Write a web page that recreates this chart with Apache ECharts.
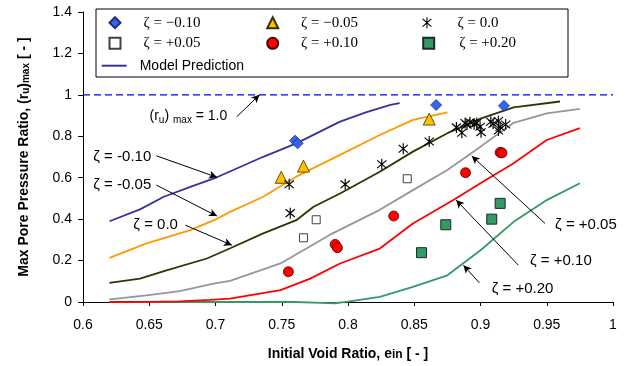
<!DOCTYPE html>
<html><head><meta charset="utf-8">
<script src="https://cdn.jsdelivr.net/npm/echarts@6/dist/echarts.min.js"></script>
<style>html,body{margin:0;padding:0;background:#fff}#c{width:628px;height:366px}</style>
</head><body><div id="c"></div>
<script>
// ---------- data ----------
const xAxisRange = [0.6, 1.0];
const yAxisRange = [0, 1.4];

// model prediction curves [x, y]
const modelM010 = [[0.62,0.390],[0.643,0.447],[0.661,0.508],[0.681,0.556],[0.701,0.602],[0.719,0.653],[0.736,0.701],[0.761,0.766],[0.794,0.871],[0.814,0.917],[0.832,0.952],[0.839,0.960]];
const modelM005 = [[0.62,0.213],[0.648,0.283],[0.681,0.347],[0.699,0.395],[0.711,0.435],[0.736,0.508],[0.761,0.605],[0.794,0.710],[0.824,0.806],[0.849,0.879],[0.875,0.916]];
const modelZ000 = [[0.62,0.092],[0.643,0.113],[0.663,0.153],[0.6935,0.210],[0.712,0.262],[0.736,0.331],[0.761,0.395],[0.774,0.460],[0.794,0.524],[0.824,0.629],[0.849,0.726],[0.875,0.815],[0.900,0.885],[0.925,0.940],[0.960,0.968]];
const modelP005 = [[0.62,0.013],[0.648,0.032],[0.673,0.053],[0.6985,0.089],[0.711,0.102],[0.749,0.186],[0.7865,0.325],[0.824,0.445],[0.849,0.540],[0.875,0.637],[0.900,0.750],[0.925,0.865],[0.950,0.911],[0.975,0.932]];
const modelP010 = [[0.62,0.000],[0.650,0.001],[0.673,0.003],[0.696,0.010],[0.711,0.016],[0.749,0.057],[0.7715,0.113],[0.794,0.186],[0.824,0.258],[0.849,0.379],[0.8795,0.492],[0.900,0.573],[0.925,0.670],[0.950,0.782],[0.975,0.839]];
const modelP020 = [[0.62,0.000],[0.700,0.000],[0.760,0.000],[0.780,-0.004],[0.790,-0.006],[0.800,0.002],[0.824,0.025],[0.849,0.073],[0.875,0.129],[0.900,0.250],[0.925,0.387],[0.950,0.492],[0.975,0.573]];
const limitLine = [[0.6,1.0],[1.0,1.0]];

// measured points [x, y]
const ptsM010 = [[0.760,0.779],[0.762,0.766],[0.8665,0.951],[0.9177,0.947]];
const ptsM005 = [[0.7496,0.602],[0.7664,0.656],[0.8613,0.883]];
const ptsZ000 = [[0.7556,0.568],[0.7564,0.429],[0.7979,0.568],[0.8255,0.665],[0.8417,0.740],[0.8613,0.775],
  [0.8818,0.843],[0.8859,0.817],[0.8884,0.864],[0.8898,0.856],[0.8921,0.868],[0.8952,0.858],[0.8972,0.864],[0.8997,0.846],
  [0.9004,0.820],[0.9078,0.870],[0.9095,0.860],[0.9135,0.874],[0.9148,0.845],[0.9135,0.828],[0.9190,0.857]];
const ptsP005 = [[0.776,0.397],[0.7664,0.310],[0.8447,0.595]];
const ptsP010 = [[0.755,0.146],[0.7903,0.278],[0.792,0.262],[0.8345,0.415],[0.8887,0.624],[0.9148,0.722],[0.9162,0.720]];
const ptsP020 = [[0.8555,0.238],[0.8738,0.373],[0.9085,0.400],[0.9148,0.476]];

const legendNames = ['ζ = −0.10','ζ = −0.05','ζ = 0.0','ζ = +0.05','ζ = +0.10','ζ = +0.20','Model Prediction'];

// annotations: text, text anchor [x,y] (data), arrow from, arrow to
const annTexts = ['ζ = -0.10','ζ = -0.05','ζ = 0.0','ζ = +0.05','ζ = +0.10','ζ = +0.20'];
const annTextPos = [[0.6078,0.7015],[0.6078,0.5646],[0.638,0.371],[0.9563,0.371],[0.9374,0.1984],[0.9085,0.0614]];
const annArrows = [
  [[0.6553,0.706],[0.7011,0.602]],
  [[0.6553,0.5646],[0.7011,0.4146]],
  [[0.6772,0.371],[0.7124,0.2743]],
  [[0.9487,0.3793],[0.8934,0.7049]],
  [[0.9286,0.1776],[0.8816,0.492]],
  [[0.8992,0.0919],[0.8871,0.1776]],
  [[0.716,0.894],[0.7332,1.0]]
];
const limitTextPos = [0.7089,0.895];

// ---------- styling ----------
const SANS = 'Liberation Sans, Arial, sans-serif';
const SERIF = 'Liberation Serif, Times New Roman, serif';
const starPath = 'path://M9 0L11 0L11 20L9 20Z M2.66 2.25L18.66 16.25L17.34 17.75L1.34 3.75Z M17.34 2.25L18.66 3.75L2.66 17.75L1.34 16.25Z';

function lineSeries(name, data, color, extra) {
  return Object.assign({
    type: 'line', name: name, data: data, showSymbol: false, symbol: 'none',
    lineStyle: {color: color, width: 1.8}, itemStyle: {color: color},
    animation: false, silent: true, z: 2
  }, extra || {});
}
function scatterSeries(name, data, symbol, size, fill, border, bw) {
  return {
    type: 'scatter', name: name, data: data, symbol: symbol, symbolSize: size,
    itemStyle: {color: fill, borderColor: border, borderWidth: bw, opacity: 1},
    animation: false, silent: true, z: 5
  };
}

const series = [
  lineSeries('Model Prediction', modelM010, '#333399'),
  lineSeries('m005', modelM005, '#FF9900'),
  lineSeries('m000', modelZ000, '#333300'),
  lineSeries('p005', modelP005, '#969696'),
  lineSeries('p020', modelP020, '#339966', {clip: false}),
  lineSeries('p010', modelP010, '#FF0000'),
  lineSeries('limit', limitLine, '#0000FF', {lineStyle: {color: '#0000FF', width: 1.2, type: [7, 4]}}),
  {
    type: 'line', name: 'arrows', data: [], silent: true, animation: false,
    markLine: {
      silent: true, animation: false, symbol: ['none', 'arrow'], symbolSize: [6, 8],
      label: {show: false}, lineStyle: {color: '#000', width: 1, type: 'solid'},
      data: annArrows.map(a => [{coord: a[0]}, {coord: a[1]}])
    }
  },
  scatterSeries(legendNames[0], ptsM010, 'diamond', 11, '#3366EE', '#1F2F80', 0.8),
  scatterSeries(legendNames[1], ptsM005, 'triangle', 12, '#FFC000', '#3A3000', 0.8),
  scatterSeries(legendNames[2], ptsZ000, starPath, [10, 11], '#000000', '#000000', 0),
  scatterSeries(legendNames[3], ptsP005, 'rect', 8, '#FFFFFF', '#404040', 1),
  scatterSeries(legendNames[4], ptsP010, 'circle', 10, '#FF0000', '#4A0000', 0.8),
  scatterSeries(legendNames[5], ptsP020, 'rect', 10, '#339966', '#1A2A20', 1)
];

// legend item layout: [name index, left, row centre, text padding]
const rowC = [22.7, 43.3, 65.7];
const legendLayout = [
  [0, 108.5, rowC[0], 18], [1, 266.2, rowC[0], 17.8], [2, 422.2, rowC[0], 20],
  [3, 108.5, rowC[1], 18], [4, 266.2, rowC[1], 17.8], [5, 422.2, rowC[1], 20]
];
const legends = legendLayout.map(l => ({
  data: [legendNames[l[0]]], left: l[1], top: l[2] - 8, padding: 0, orient: 'horizontal',
  itemWidth: 11, itemHeight: 11, selectedMode: false,
  textStyle: {fontFamily: SERIF, fontSize: 15, color: '#000', lineHeight: 16, padding: [0, 0, 0, l[3]]}
}));
legends.push({
  data: [{name: legendNames[6], icon: 'rect'}], left: 101.7, top: rowC[2] - 8, padding: 0,
  itemWidth: 25, itemHeight: 2, selectedMode: false,
  textStyle: {fontFamily: SANS, fontSize: 14, color: '#000', lineHeight: 16, padding: [0, 0, 0, 8]}
});

const chart = echarts.init(document.getElementById('c'), null, {renderer: 'canvas'});
chart.setOption({
  animation: false,
  backgroundColor: '#fff',
  grid: {left: 83, right: 15, top: 12, bottom: 64, containLabel: false, outerBoundsMode: 'none'},
  legend: legends,
  xAxis: {
    type: 'value', min: xAxisRange[0], max: xAxisRange[1], interval: 0.05,
    axisLine: {show: true, onZero: false, lineStyle: {color: '#000', width: 1}},
    axisTick: {show: true, inside: false, length: 4, lineStyle: {color: '#000'}},
    axisLabel: {color: '#000', fontFamily: SANS, fontSize: 14, margin: 16},
    splitLine: {show: false},
    name: '{b|Initial Void Ratio, e}{s|in}{b| [ - ]}', nameLocation: 'middle', nameGap: 41,
    nameTextStyle: {rich: {
      b: {fontFamily: SANS, fontSize: 14, fontWeight: 'bold', color: '#000', lineHeight: 18, verticalAlign: 'bottom'},
      s: {fontFamily: SANS, fontSize: 12, fontWeight: 'bold', color: '#000', lineHeight: 9, verticalAlign: 'bottom'}
    }}
  },
  yAxis: {
    type: 'value', min: yAxisRange[0], max: yAxisRange[1], interval: 0.2,
    axisLine: {show: true, lineStyle: {color: '#000', width: 1}},
    axisTick: {show: true, inside: false, length: 5, lineStyle: {color: '#000'}},
    axisLabel: {color: '#000', fontFamily: SANS, fontSize: 14, margin: 11},
    splitLine: {show: false},
    name: '{b|Max Pore Pressure Ratio, (r}{s|u}{b|)}{s|max}{b| [ - ]}', nameLocation: 'middle', nameGap: 52, nameRotate: 90,
    nameTextStyle: {rich: {
      b: {fontFamily: SANS, fontSize: 14, fontWeight: 'bold', color: '#000', lineHeight: 18, verticalAlign: 'bottom'},
      s: {fontFamily: SANS, fontSize: 10, fontWeight: 'bold', color: '#000', lineHeight: 8, verticalAlign: 'bottom'}
    }}
  },
  series: series
});

// annotations placed from data coordinates
const g = [{
  type: 'rect', shape: {x: 96, y: 9, width: 472, height: 68}, z: -1, silent: true,
  style: {fill: '#fff', stroke: '#000', lineWidth: 1}
}];
annTexts.forEach((t, i) => {
  const p = chart.convertToPixel({gridIndex: 0}, annTextPos[i]);
  g.push({type: 'text', x: p[0], y: p[1], silent: true, z: 10,
    style: {text: t, fill: '#000', font: '15px ' + SANS, align: 'left', verticalAlign: 'middle'}});
});
const lp = chart.convertToPixel({gridIndex: 0}, limitTextPos);
g.push({type: 'text', x: lp[0], y: lp[1], silent: true, z: 10,
  style: {text: '(r{s|u}) {s|max} = 1.0', fill: '#000', font: '14px ' + SANS, align: 'right', verticalAlign: 'middle',
    rich: {s: {font: '10px ' + SANS, fill: '#000', padding: [8, 0, 0, 0]}}}});
chart.setOption({graphic: g});
</script></body></html>
